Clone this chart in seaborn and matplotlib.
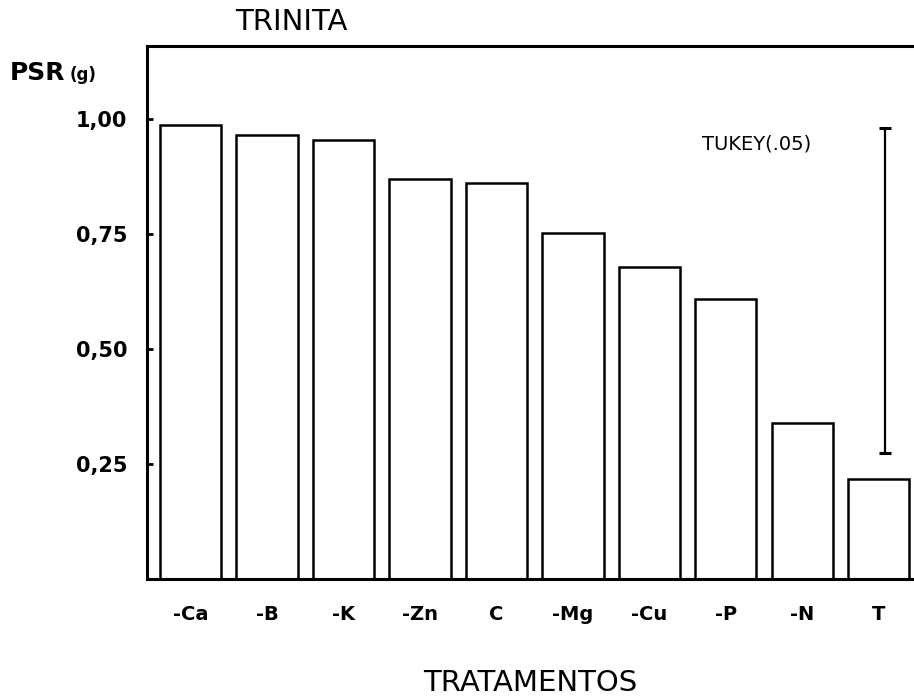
import pandas as pd
import matplotlib
matplotlib.use("Agg")
import matplotlib.pyplot as plt
import seaborn as sns

# values
tratamentos = ['-Ca', '-B', '-K', '-Zn', 'C', '-Mg', '-Cu', '-P', '-N', 'T']
psr = [0.987, 0.965, 0.954, 0.870, 0.861, 0.752, 0.678, 0.609, 0.339, 0.217]
y_ticks = [0.25, 0.50, 0.75, 1.00]
y_ticklabels = ['0,25', '0,50', '0,75', '1,00']
tukey_low = 0.274
tukey_high = 0.980

df = pd.DataFrame({'tratamento': tratamentos, 'psr': psr})

sns.set_style("ticks")
plt.rcParams['font.family'] = ['DejaVu Sans']
plt.rcParams['text.color'] = 'black'
plt.rcParams['axes.labelcolor'] = 'black'
plt.rcParams['xtick.color'] = 'black'
plt.rcParams['ytick.color'] = 'black'
plt.rcParams['axes.edgecolor'] = 'black'

fig = plt.figure(figsize=(9.14, 6.98), dpi=100)
ax = fig.add_axes([0.1608, 0.1705, 0.8392, 0.7635])

sns.barplot(data=df, x='tratamento', y='psr', color='white', edgecolor='black',
            linewidth=1.8, width=0.8, saturation=1, ax=ax)

# Tukey bar
mid = (tukey_low + tukey_high) / 2
ax.errorbar([9.08], [mid], yerr=[[mid - tukey_low], [tukey_high - mid]],
            fmt='none', ecolor='black', elinewidth=1.6, capsize=4, capthick=2.2)
ax.text(7.4, 0.945, 'TUKEY(.05)', fontsize=14, ha='center', va='center')

ax.set_xlim(-0.57, 9.46)
ax.set_ylim(0, 1.159)
ax.set_yticks(y_ticks)
ax.set_yticklabels(y_ticklabels, fontsize=15, fontweight='bold')
ax.tick_params(axis='y', direction='in', length=4, width=2, pad=14)
ax.tick_params(axis='x', length=0, pad=19)
for lab in ax.get_xticklabels():
    lab.set_fontsize(14)
    lab.set_fontweight('bold')

ax.set_xlabel('TRATAMENTOS', fontsize=21, labelpad=32)
ax.set_ylabel('')
for s in ['left', 'bottom', 'top']:
    ax.spines[s].set_linewidth(2.2)
ax.spines['right'].set_visible(False)

fig.text(0.319, 0.968, 'TRINITA', fontsize=21, ha='center', va='center')
fig.text(0.011, 0.886, 'PSR', fontsize=18, fontweight='bold', ha='left', va='baseline')
fig.text(0.076, 0.886, '(g)', fontsize=12, fontweight='bold', ha='left', va='baseline')

fig.savefig('out.png', dpi=100)
